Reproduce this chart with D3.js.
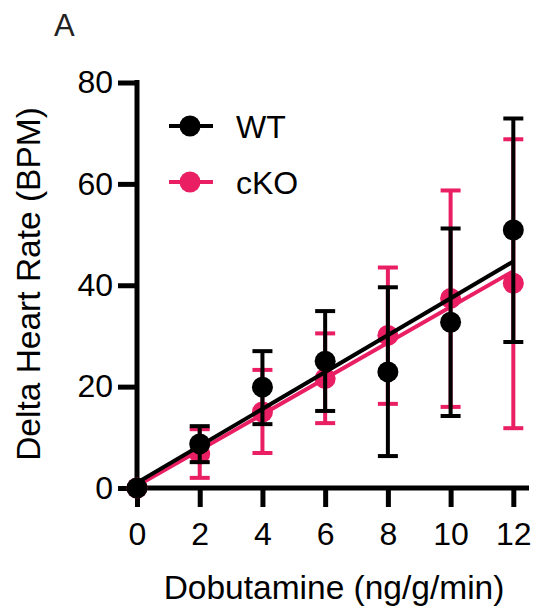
<!DOCTYPE html>
<html>
<head>
<meta charset="utf-8">
<script src="https://cdn.jsdelivr.net/npm/d3@7"></script>
<style>
  body { margin: 0; background: #fff; }
  text { font-family: "Liberation Sans", Arial, sans-serif; }
</style>
</head>
<body>
<svg id="chart" width="546" height="612"></svg>
<script>
// doses (ng/g/min)
var doses = [0, 2, 4, 6, 8, 10, 12];

// WT mean and error range
var wtMean = [0, 8.7, 19.9, 25.0, 22.9, 32.7, 50.9];
var wtUpper = [0, 12.2, 27.0, 34.9, 39.6, 51.2, 72.9];
var wtLower = [0, 5.1, 12.6, 15.2, 6.3, 14.2, 28.8];

// cKO mean and error range
var koMean = [0, 6.7, 15.0, 21.6, 30.1, 37.4, 40.4];
var koUpper = [0, 11.6, 23.3, 30.5, 43.5, 58.7, 68.8];
var koLower = [0, 2.0, 6.9, 12.8, 16.6, 16.0, 11.8];

var xTicks = [0, 2, 4, 6, 8, 10, 12];
var yTicks = [0, 20, 40, 60, 80];

var pink = "#E91E63";

var svg = d3.select("#chart");

var x = d3.scaleLinear().domain([0, 12.5]).range([137, 529]);
var y = d3.scaleLinear().domain([0, 80]).range([488, 82.5]);

// axes
var xAxis = svg.append("g")
    .attr("transform", "translate(0," + y(0) + ")")
    .call(d3.axisBottom(x).tickValues(xTicks).tickSize(19).tickPadding(15).tickSizeOuter(0));
var yAxis = svg.append("g")
    .attr("transform", "translate(" + x(0) + ",0)")
    .call(d3.axisLeft(y).tickValues(yTicks).tickSize(19).tickPadding(5).tickSizeOuter(0));

[xAxis, yAxis].forEach(function(a){
    a.select(".domain").attr("stroke", "#000").attr("stroke-width", 5);
    a.selectAll(".tick line").attr("stroke", "#000").attr("stroke-width", 5);
    a.selectAll(".tick text").attr("fill", "#000")
        .style("font-family", "Liberation Sans, Arial, sans-serif")
        .style("font-size", "32px");
});
// square the axis corner
xAxis.select(".domain").attr("d", "M" + (x(0) - 2.5) + ",0H" + x(12.5));
yAxis.select(".domain").attr("d", "M0," + (y(80) - 2.5) + "V" + (y(0) + 2.5));

function fit(xs, ys){
    var mx = d3.mean(xs), my = d3.mean(ys);
    var sxy = d3.sum(xs, function(v, i){ return (v - mx) * (ys[i] - my); });
    var sxx = d3.sum(xs, function(v){ return (v - mx) * (v - mx); });
    var b = sxy / sxx;
    return { a: my - b * mx, b: b };
}

function drawGroup(mean, upper, lower, color){
    var g = svg.append("g");
    var f = fit(doses, mean);
    g.append("line")
        .attr("x1", x(0)).attr("y1", y(f.a))
        .attr("x2", x(12)).attr("y2", y(f.a + f.b * 12))
        .attr("stroke", color).attr("stroke-width", 4);

    var bars = g.selectAll(".bar").data(doses).enter().append("g");
    bars.append("line")
        .attr("x1", function(d){ return x(d); }).attr("x2", function(d){ return x(d); })
        .attr("y1", function(d, i){ return y(upper[i]); })
        .attr("y2", function(d, i){ return y(lower[i]); })
        .attr("stroke", color).attr("stroke-width", 4);
    [upper, lower].forEach(function(arr){
        bars.append("line")
            .attr("x1", function(d){ return x(d) - 10; }).attr("x2", function(d){ return x(d) + 10; })
            .attr("y1", function(d, i){ return y(arr[i]); })
            .attr("y2", function(d, i){ return y(arr[i]); })
            .attr("stroke", color).attr("stroke-width", 4);
    });

    g.selectAll(".dot").data(doses).enter().append("circle")
        .attr("cx", function(d){ return x(d); })
        .attr("cy", function(d, i){ return y(mean[i]); })
        .attr("r", 10.5)
        .attr("fill", color);
}

drawGroup(koMean, koUpper, koLower, pink);
drawGroup(wtMean, wtUpper, wtLower, "#000");

// legend
var legend = [{name: "WT", color: "#000"}, {name: "cKO", color: pink}];
var lg = svg.selectAll(".lg").data(legend).enter().append("g")
    .attr("transform", function(d, i){ return "translate(190," + (126 + i * 56) + ")"; });
lg.append("line").attr("x1", -21).attr("x2", 23)
    .attr("stroke", function(d){ return d.color; }).attr("stroke-width", 4);
lg.append("circle").attr("r", 10.5).attr("fill", function(d){ return d.color; });
lg.append("text").attr("x", 46).attr("y", 12)
    .style("font-size", "32px")
    .text(function(d){ return d.name; });

// titles
svg.append("text")
    .attr("x", 334).attr("y", 599)
    .attr("text-anchor", "middle")
    .style("font-size", "33.5px")
    .text("Dobutamine (ng/g/min)");

svg.append("text")
    .attr("transform", "translate(40,284) rotate(-90)")
    .attr("text-anchor", "middle")
    .style("font-size", "33.5px")
    .text("Delta Heart Rate (BPM)");

svg.append("text")
    .attr("x", 54).attr("y", 36)
    .style("font-size", "31px")
    .attr("fill", "#222")
    .text("A");
</script>
</body>
</html>
